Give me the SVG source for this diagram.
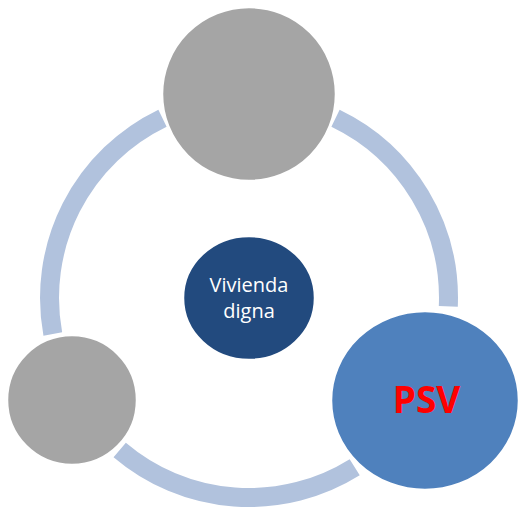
<svg xmlns="http://www.w3.org/2000/svg" width="519" height="508" viewBox="0 0 519 508">
  <style>
    .ring { fill: none; stroke: #B1C2DD; stroke-width: 19; stroke-linecap: butt; }
    .node { stroke: #FFFFFF; stroke-width: 2.5; }
    .gray { fill: #A5A5A5; }
    .lbl { font-family: "Open Sans", "Noto Sans", "DejaVu Sans", sans-serif; text-anchor: middle; }
  </style>
  <rect width="519" height="508" fill="#FFFFFF"/>
  <g id="connectors">
    <path class="ring" d="M 335.5 118.2 A 199.5 199.5 0 0 1 448.3 306.4"/>
    <path class="ring" d="M 354.7 467.2 A 199.5 199.5 0 0 1 119.7 449.9"/>
    <path class="ring" d="M 52.8 334.0 A 199.5 199.5 0 0 1 162.5 118.2"/>
  </g>
  <g id="node-top">
    <circle class="node gray" cx="249" cy="94" r="87"/>
  </g>
  <g id="node-center">
    <ellipse class="node" fill="#224A7E" cx="249" cy="298" rx="66" ry="62"/>
    <text class="lbl" x="249" y="292" font-size="20" fill="#FFFFFF">Vivienda</text>
    <text class="lbl" x="249" y="318" font-size="20" fill="#FFFFFF">digna</text>
  </g>
  <g id="node-left">
    <circle class="node gray" cx="72" cy="400" r="65"/>
  </g>
  <g id="node-psv">
    <ellipse class="node" fill="#4F81BD" cx="425" cy="400.5" rx="94" ry="89.5"/>
    <text class="lbl" x="426.5" y="413" font-size="37" font-weight="bold" fill="#FF0000">PSV</text>
  </g>
</svg>
